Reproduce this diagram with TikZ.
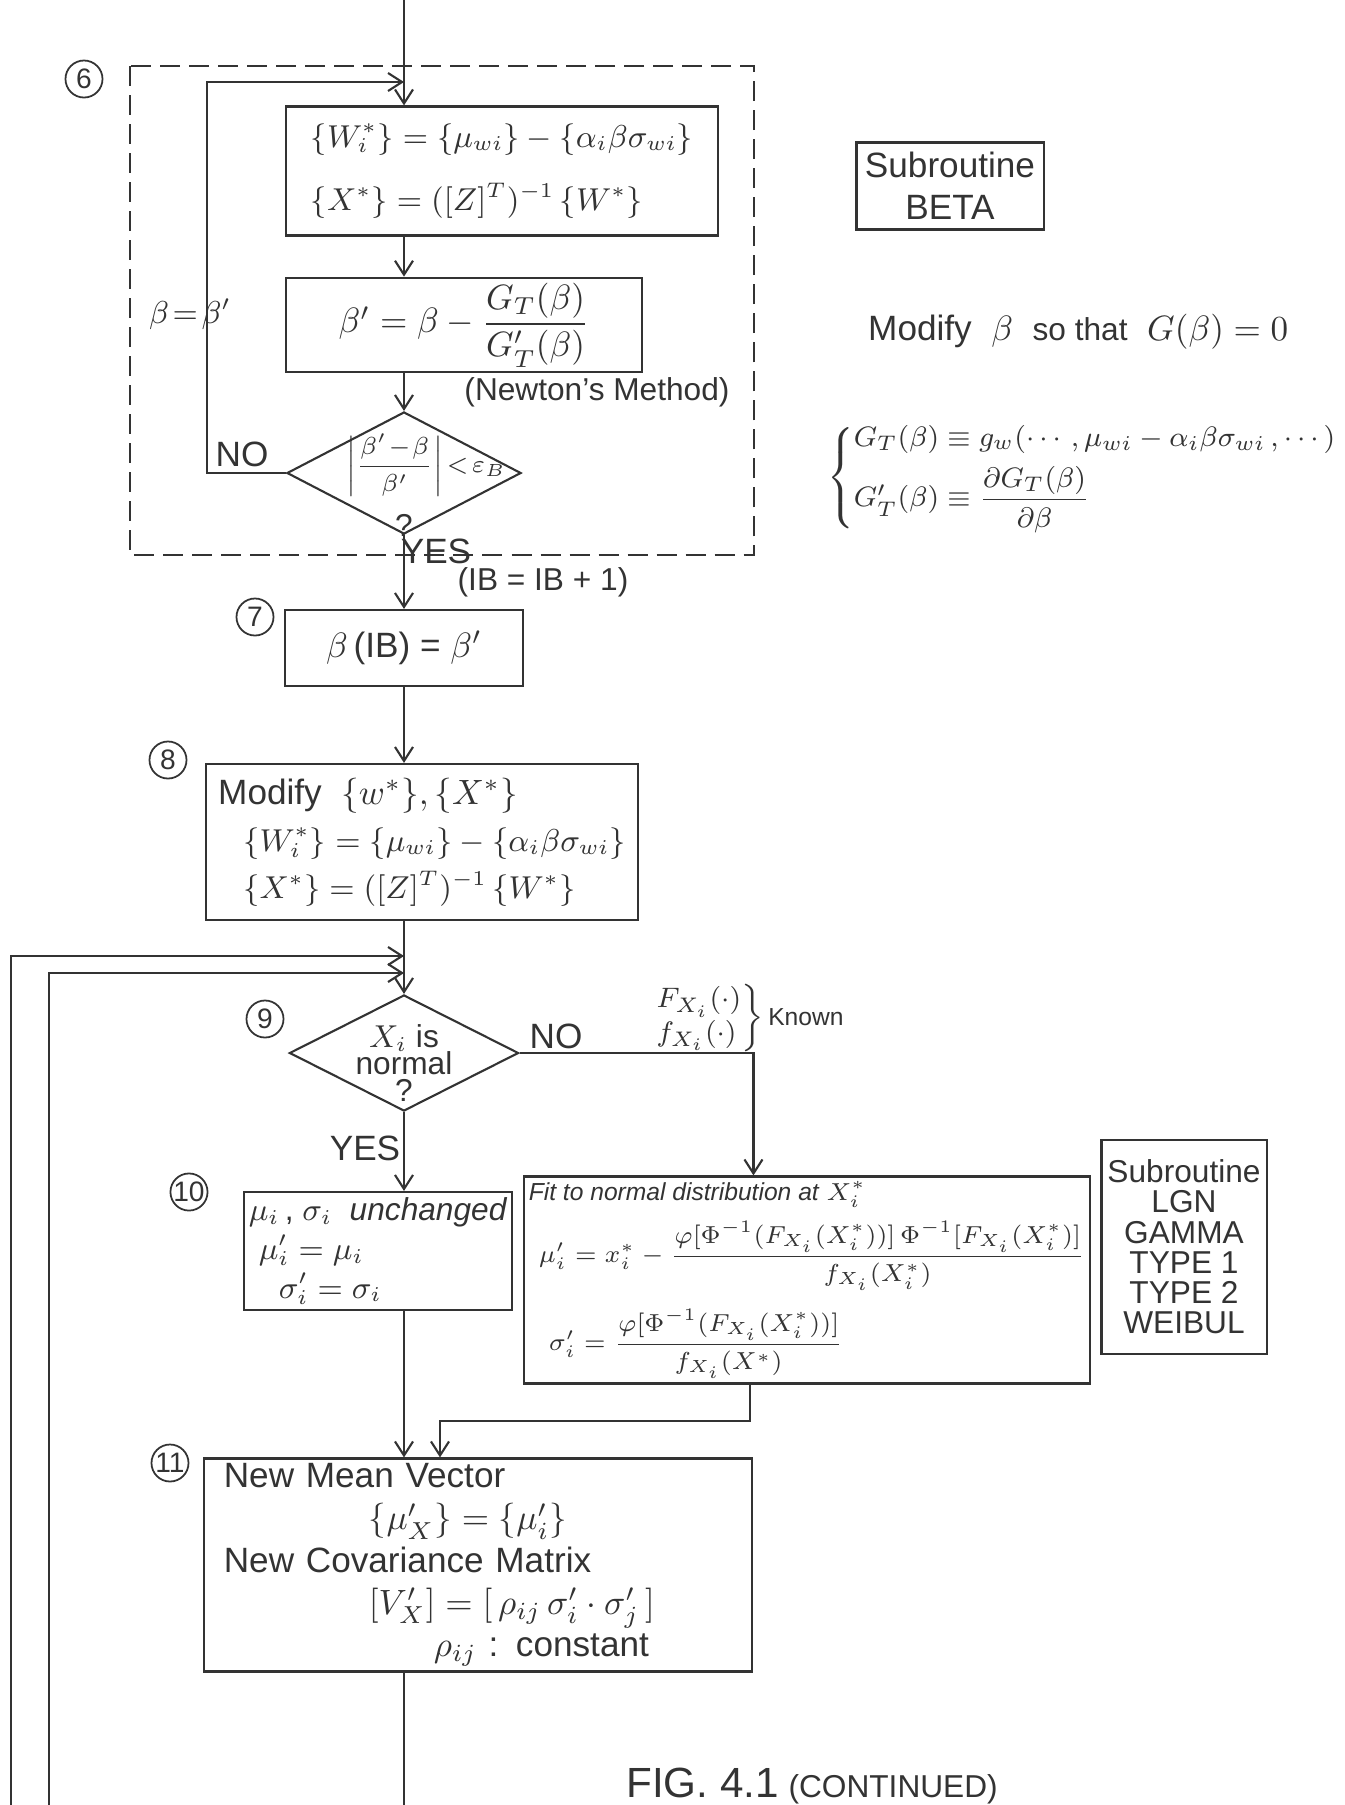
\documentclass[tikz,border=0pt]{standalone}
\usepackage{fontspec}
\setmainfont{Liberation Sans}
\usepackage{amsmath}
\usepackage{xcolor}
\definecolor{cPencil}{HTML}{333333}
\usepackage{tikz}
\usetikzlibrary{positioning,arrows.meta,shapes.geometric}
\tikzset{
  node-box/.style={draw=cPencil,line width=0.6pt,align=left,inner sep=0.5mm},
  node-decide/.style={draw=cPencil,line width=0.6pt,diamond,inner sep=0pt},
  node-num/.style={draw=cPencil,circle,line width=0.5pt,minimum size=3.7mm,
    inner sep=0pt,font=\footnotesize},
  node-note/.style={text=cPencil,inner sep=1pt},
  arrow/.style={-{Straight Barb[length=1.4mm,width=1.8mm]},line width=0.6pt,draw=cPencil},
  conn-line/.style={line width=0.6pt,draw=cPencil},
  group-frame/.style={draw=cPencil,line width=0.6pt,dash pattern=on 2mm off 0.9mm},
}
\begin{document}
\begin{tikzpicture}[x=0.01cm,y=-0.01cm,text=cPencil]
  \useasboundingbox (0,0) rectangle (1344,1805);
  \coordinate (axis) at (404,0);
  % 6: Newton iteration on beta (subroutine BETA)
  \draw[group-frame] (130,66) rectangle (754,555);
  \node[node-num] (n6) at (84,79) {6};
  \node[node-box,minimum width=4.31cm,minimum height=1.29cm,font=\small] (wStar) at (502,171)
    {$\{W_i^*\} = \{\mu_{wi}\} - \{\alpha_i\beta\sigma_{wi}\}$\\[2.5mm]
     $\{X^*\} = ([Z]^T)^{-1}\,\{W^*\}$};
  \node[node-box,minimum width=3.55cm,minimum height=0.94cm] (newton) at (464,325)
    {$\beta' = \beta - \dfrac{G_T(\beta)}{G'_T(\beta)}$};
  \node[node-note,font=\small] at (597,392) {(Newton's Method)};
  \node[node-decide,minimum width=2.34cm,minimum height=1.22cm,
    label={[font=\scriptsize,xshift=0.22cm,yshift=0.08cm]center:$\left|\dfrac{\beta'\!-\!\beta}{\beta'}\right|\!<\!\varepsilon_B$},
    label={[font=\small,yshift=0.33cm]south:?}] (conv) at (404,473) {};
  \coordinate (loopB) at (207,82);
  \draw[arrow] (axis) -- (axis |- wStar.north);
  \draw[arrow] (wStar.south -| axis) -- (newton.north -| axis);
  \draw[arrow] (newton.south -| axis) -- (conv.north);
  \draw[arrow] (conv.west) -| (loopB) -- (loopB -| axis);
  \node[node-note] at (242,454) {NO};
  \node[node-note,font=\small] at (190,314) {$\beta\!=\!\beta'$};
  \node[node-note] at (436,551) {YES};
  \node[node-note,font=\small] at (543,582) {(IB = IB + 1)};
  % 7
  \node[node-num] (n7) at (255,617) {7};
  \node[node-box,minimum width=2.37cm,minimum height=0.76cm] (betaIB) at (404,648)
    {$\beta$\,(IB) = $\beta'$};
  \draw[arrow] (conv.south) -- (betaIB.north);
  % 8
  \node[node-num] (n8) at (168,760) {8};
  \node[node-box,minimum width=4.31cm,minimum height=1.56cm] (modW) at (422,842)
    {Modify \ $\{w^*\},\{X^*\}$\\[0.5mm]
     \hspace*{2.5mm}{\small$\{W_i^*\} = \{\mu_{wi}\} - \{\alpha_i\beta\sigma_{wi}\}$}\\[0.5mm]
     \hspace*{2.5mm}{\small$\{X^*\} = ([Z]^T)^{-1}\,\{W^*\}$}};
  \draw[arrow] (betaIB.south) -- (modW.north -| axis);
  % 9
  \node[node-num] (n9) at (265,1019) {9};
  \node[node-decide,minimum width=2.29cm,minimum height=1.16cm,
    label={[align=center,font=\small,yshift=-0.1cm]center:$X_i$ is\\[-1.2mm]normal\\[-1.2mm]?}]
    (isNormal) at (404,1053) {};
  \coordinate (backOuter) at (11,1805);
  \coordinate (backInner) at (49,1805);
  \coordinate (joinOuter) at (404,956);
  \coordinate (joinInner) at (404,973);
  \draw[arrow] (modW.south -| axis) -- (isNormal.north);
  \draw[arrow] (backOuter) |- (joinOuter);
  \draw[arrow] (backInner) |- (joinInner);
  \node[node-note] at (556,1036) {NO};
  \node[node-note,font=\footnotesize] (known) at (748,1018)
    {$\left.\begin{array}{@{}l@{}}F_{X_i}(\cdot)\\ f_{X_i}(\cdot)\end{array}\right\}$\,{\scriptsize Known}};
  \node[node-note] at (365,1148) {YES};
  % 10
  \node[node-num] (n10) at (189,1192) {10};
  \node[node-box,minimum width=2.66cm,minimum height=1.18cm,font=\small] (keep) at (378,1251)
    {$\mu_i$\,,\ $\sigma_i$\ \ \textit{unchanged}\\
     \hspace*{1mm}$\mu_i' = \mu_i$\\
     \hspace*{3mm}$\sigma_i' = \sigma_i$};
  \draw[arrow] (isNormal.south) -- (isNormal.south |- keep.north);
  \node[node-box,minimum width=5.63cm,minimum height=1.84cm,font=\scriptsize] (fitN) at (807,1280)
    {\textit{Fit to normal distribution at} $X_i^*$\\[1mm]
     \hspace*{1mm}$\mu_i' = x_i^* - \dfrac{\varphi[\Phi^{-1}(F_{X_i}(X_i^*))]\,\Phi^{-1}[F_{X_i}(X_i^*)]}{f_{X_i}(X_i^*)}$\\[1.5mm]
     \hspace*{2mm}$\sigma_i' = \dfrac{\varphi[\Phi^{-1}(F_{X_i}(X_i^*))]}{f_{X_i}(X^*)}$};
  \draw[arrow] (isNormal.east) -| ([xshift=-0.535cm]fitN.north);
  \node[node-box,minimum width=1.65cm,minimum height=2.14cm,align=center,
    font=\fontsize{9}{8.6}\selectfont] (subLGN) at (1184,1247)
    {Subroutine\\LGN\\GAMMA\\TYPE 1\\TYPE 2\\WEIBUL};
  % 11
  \node[node-num] (n11) at (170,1463) {11};
  \node[node-box,text width=5.08cm,inner xsep=2mm,minimum height=2.09cm] (newMoments) at (478,1565)
    {New Mean Vector\\
     \hspace*{1.45cm}$\{\mu_X'\} = \{\mu_i'\}$\\
     New Covariance Matrix\\
     \hspace*{1.45cm}$[V_X'] = [\,\rho_{ij}\,\sigma_i'\cdot\sigma_j'\,]$\\
     \hspace*{2.1cm}$\rho_{ij}$ : constant};
  \coordinate (jogR) at (440,1421);
  \coordinate (outBottom) at (404,1805);
  \draw[arrow] (keep.south -| axis) -- (newMoments.north -| axis);
  \draw[arrow] ([xshift=-0.57cm]fitN.south) |- (jogR) -- (jogR |- newMoments.north);
  \draw[conn-line] (newMoments.south -| axis) -- (outBottom);
  % side notes
  \node[node-box,minimum width=1.87cm,minimum height=0.87cm,align=center] (subBeta) at (950,186)
    {Subroutine\\BETA};
  \node[node-note,anchor=west] at (864,332) {Modify \ $\beta$ \ {\small so that} \ $G(\beta)=0$};
  \node[node-note,anchor=west,font=\footnotesize] at (823,478)
    {$\left\{\begin{array}{@{}l@{}}
      G_T(\beta) \equiv g_w(\cdots\,,\mu_{wi}-\alpha_i\beta\sigma_{wi}\,,\cdots)\\[1mm]
      G_T'(\beta) \equiv \dfrac{\partial G_T(\beta)}{\partial\beta}\end{array}\right.$};
  \node[node-note] at (812,1786) {{\large FIG. 4.1} {\small (CONTINUED)}};
\end{tikzpicture}
\end{document}
